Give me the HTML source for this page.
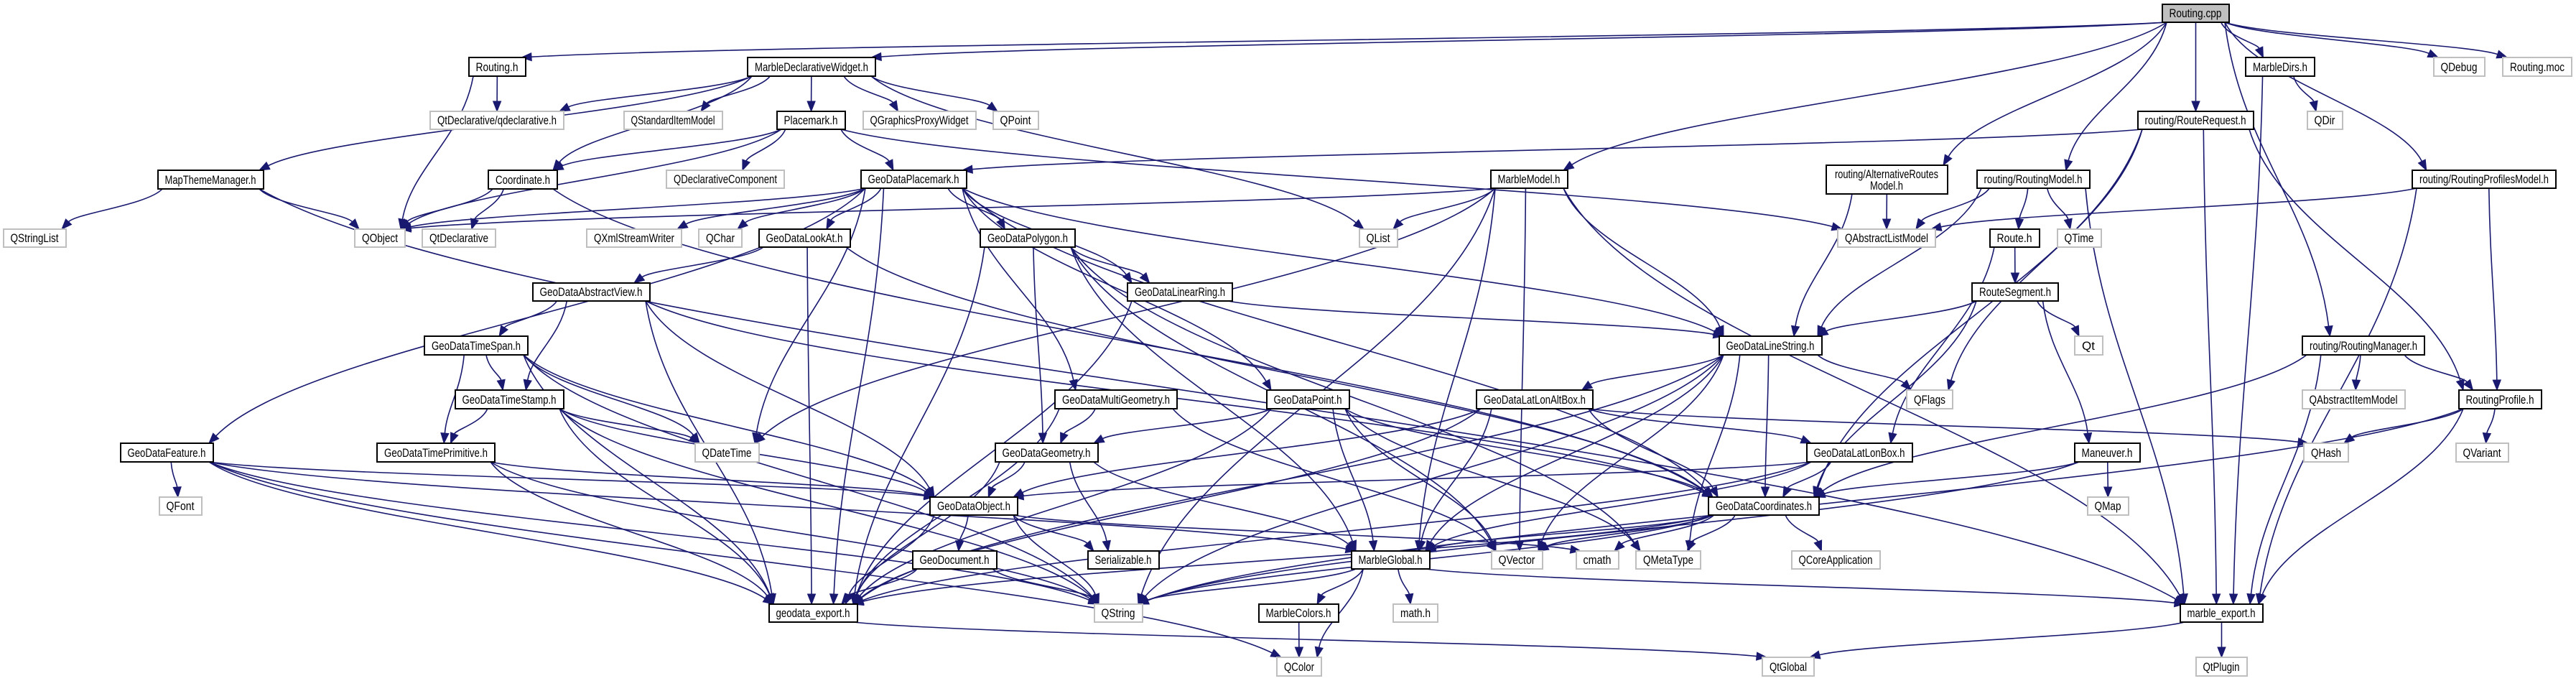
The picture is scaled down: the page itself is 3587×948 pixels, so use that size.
<!DOCTYPE html>
<html><head><meta charset="utf-8">
<style>
html,body{margin:0;padding:0;background:#fff;}
svg{display:block;}
text{font-family:"Liberation Sans",sans-serif;font-size:17px;fill:#000;}
rect.b{fill:#fff;stroke:#000;stroke-width:2;}
rect.g{fill:#fff;stroke:#bfbfbf;stroke-width:2;}
rect.r{fill:#bfbfbf;stroke:#000;stroke-width:2;}
</style></head><body>
<svg id="s" width="3587" height="948" viewBox="0 0 3587 948" xmlns="http://www.w3.org/2000/svg">
<g id="edges"></g>
<g id="nodes">
<rect id="RoutingCpp" class="r" x="3011" y="6" width="93" height="25"/><text x="3057" y="24" text-anchor="middle">Routing.cpp</text>
<rect id="RoutingH" class="b" x="653" y="80" width="79" height="26"/><text x="692" y="99" text-anchor="middle">Routing.h</text>
<rect id="MDW" class="b" x="1041" y="80" width="178" height="26"/><text x="1130" y="99" text-anchor="middle">MarbleDeclarativeWidget.h</text>
<rect id="MarbleDirs" class="b" x="3127" y="80" width="96" height="26"/><text x="3175" y="99" text-anchor="middle">MarbleDirs.h</text>
<rect id="QDebug" class="g" x="3389" y="80" width="71" height="26"/><text x="3424" y="99" text-anchor="middle">QDebug</text>
<rect id="RoutingMoc" class="g" x="3485" y="80" width="96" height="26"/><text x="3533" y="99" text-anchor="middle">Routing.moc</text>
<rect id="QDecl" class="g" x="599" y="155" width="186" height="25"/><text x="692" y="173" text-anchor="middle">QtDeclarative/qdeclarative.h</text>
<rect id="QSIM" class="g" x="869" y="155" width="137" height="25"/><text x="937" y="173" text-anchor="middle">QStandardItemModel</text>
<rect id="Placemark" class="b" x="1082" y="155" width="95" height="25"/><text x="1129" y="173" text-anchor="middle">Placemark.h</text>
<rect id="QGPW" class="g" x="1202" y="155" width="157" height="25"/><text x="1280" y="173" text-anchor="middle">QGraphicsProxyWidget</text>
<rect id="QPoint" class="g" x="1383" y="155" width="63" height="25"/><text x="1414" y="173" text-anchor="middle">QPoint</text>
<rect id="RouteRequest" class="b" x="2977" y="155" width="161" height="25"/><text x="3057" y="173" text-anchor="middle">routing/RouteRequest.h</text>
<rect id="QDir" class="g" x="3213" y="155" width="49" height="25"/><text x="3237" y="173" text-anchor="middle">QDir</text>
<rect id="MTM" class="b" x="220" y="237" width="147" height="26"/><text x="293" y="256" text-anchor="middle">MapThemeManager.h</text>
<rect id="Coordinate" class="b" x="680" y="237" width="96" height="26"/><text x="728" y="256" text-anchor="middle">Coordinate.h</text>
<rect id="QDC" class="g" x="928" y="237" width="164" height="25"/><text x="1010" y="255" text-anchor="middle">QDeclarativeComponent</text>
<rect id="GDPlacemark" class="b" x="1199" y="237" width="147" height="25"/><text x="1272" y="255" text-anchor="middle">GeoDataPlacemark.h</text>
<rect id="MarbleModel" class="b" x="2076" y="237" width="107" height="25"/><text x="2129" y="255" text-anchor="middle">MarbleModel.h</text>
<rect id="ARM" class="b" x="2543" y="230" width="169" height="40"/><text id="armA" x="2627" y="248" text-anchor="middle" textLength="144" lengthAdjust="spacingAndGlyphs">routing/AlternativeRoutes</text><text id="armB" x="2627" y="264" text-anchor="middle" textLength="46" lengthAdjust="spacingAndGlyphs">Model.h</text>
<rect id="RoutingModel" class="b" x="2753" y="237" width="157" height="25"/><text x="2831" y="255" text-anchor="middle">routing/RoutingModel.h</text>
<rect id="RPM" class="b" x="3359" y="237" width="200" height="25"/><text x="3459" y="255" text-anchor="middle">routing/RoutingProfilesModel.h</text>
<rect id="QStringList" class="g" x="5" y="319" width="87" height="25"/><text x="48" y="337" text-anchor="middle">QStringList</text>
<rect id="QObject" class="g" x="494" y="319" width="70" height="25"/><text x="529" y="337" text-anchor="middle">QObject</text>
<rect id="QtDeclarative" class="g" x="588" y="319" width="102" height="25"/><text x="639" y="337" text-anchor="middle">QtDeclarative</text>
<rect id="QXSW" class="g" x="817" y="319" width="132" height="25"/><text x="883" y="337" text-anchor="middle">QXmlStreamWriter</text>
<rect id="QChar" class="g" x="973" y="319" width="60" height="25"/><text x="1003" y="337" text-anchor="middle">QChar</text>
<rect id="LookAt" class="b" x="1057" y="319" width="127" height="25"/><text x="1120" y="337" text-anchor="middle">GeoDataLookAt.h</text>
<rect id="Polygon" class="b" x="1365" y="319" width="132" height="25"/><text x="1431" y="337" text-anchor="middle">GeoDataPolygon.h</text>
<rect id="QList" class="g" x="1893" y="319" width="53" height="25"/><text x="1919" y="337" text-anchor="middle">QList</text>
<rect id="QALM" class="g" x="2559" y="319" width="136" height="25"/><text x="2627" y="337" text-anchor="middle">QAbstractListModel</text>
<rect id="Route" class="b" x="2771" y="319" width="69" height="25"/><text x="2805" y="337" text-anchor="middle">Route.h</text>
<rect id="QTime" class="g" x="2865" y="319" width="61" height="25"/><text x="2895" y="337" text-anchor="middle">QTime</text>
<rect id="AbsView" class="b" x="742" y="394" width="163" height="25"/><text x="823" y="412" text-anchor="middle">GeoDataAbstractView.h</text>
<rect id="LinearRing" class="b" x="1570" y="394" width="146" height="25"/><text x="1643" y="412" text-anchor="middle">GeoDataLinearRing.h</text>
<rect id="RouteSegment" class="b" x="2746" y="394" width="120" height="25"/><text x="2806" y="412" text-anchor="middle">RouteSegment.h</text>
<rect id="TimeSpan" class="b" x="591" y="468" width="144" height="26"/><text x="663" y="487" text-anchor="middle">GeoDataTimeSpan.h</text>
<rect id="LineString" class="b" x="2394" y="468" width="143" height="26"/><text x="2465" y="487" text-anchor="middle">GeoDataLineString.h</text>
<rect id="Qt" class="g" x="2889" y="468" width="39" height="26"/><text x="2908" y="487" text-anchor="middle">Qt</text>
<rect id="RoutingManager" class="b" x="3206" y="468" width="170" height="26"/><text x="3291" y="487" text-anchor="middle">routing/RoutingManager.h</text>
<rect id="TimeStamp" class="b" x="634" y="543" width="151" height="26"/><text x="709" y="562" text-anchor="middle">GeoDataTimeStamp.h</text>
<rect id="MultiGeom" class="b" x="1469" y="543" width="170" height="26"/><text x="1554" y="562" text-anchor="middle">GeoDataMultiGeometry.h</text>
<rect id="Point" class="b" x="1764" y="543" width="115" height="26"/><text x="1821" y="562" text-anchor="middle">GeoDataPoint.h</text>
<rect id="LLAltBox" class="b" x="2056" y="543" width="162" height="26"/><text x="2137" y="562" text-anchor="middle">GeoDataLatLonAltBox.h</text>
<rect id="QFlags" class="g" x="2655" y="543" width="64" height="26"/><text x="2687" y="562" text-anchor="middle">QFlags</text>
<rect id="QAIM" class="g" x="3206" y="543" width="143" height="26"/><text x="3277" y="562" text-anchor="middle">QAbstractItemModel</text>
<rect id="RoutingProfile" class="b" x="3424" y="543" width="115" height="26"/><text x="3481" y="562" text-anchor="middle">RoutingProfile.h</text>
<rect id="Feature" class="b" x="168" y="617" width="129" height="26"/><text x="232" y="636" text-anchor="middle">GeoDataFeature.h</text>
<rect id="TimePrim" class="b" x="525" y="617" width="164" height="26"/><text x="607" y="636" text-anchor="middle">GeoDataTimePrimitive.h</text>
<rect id="QDateTime" class="g" x="968" y="617" width="89" height="26"/><text x="1012" y="636" text-anchor="middle">QDateTime</text>
<rect id="Geometry" class="b" x="1386" y="617" width="143" height="26"/><text x="1457" y="636" text-anchor="middle">GeoDataGeometry.h</text>
<rect id="LLBox" class="b" x="2516" y="617" width="147" height="26"/><text x="2589" y="636" text-anchor="middle">GeoDataLatLonBox.h</text>
<rect id="Maneuver" class="b" x="2889" y="617" width="91" height="26"/><text x="2934" y="636" text-anchor="middle">Maneuver.h</text>
<rect id="QHash" class="g" x="3208" y="617" width="62" height="26"/><text x="3239" y="636" text-anchor="middle">QHash</text>
<rect id="QVariant" class="g" x="3420" y="617" width="73" height="26"/><text x="3456" y="636" text-anchor="middle">QVariant</text>
<rect id="QFont" class="g" x="222" y="692" width="59" height="25"/><text x="251" y="710" text-anchor="middle">QFont</text>
<rect id="Object" class="b" x="1295" y="692" width="122" height="25"/><text x="1356" y="710" text-anchor="middle">GeoDataObject.h</text>
<rect id="Coords" class="b" x="2379" y="692" width="154" height="25"/><text x="2456" y="710" text-anchor="middle">GeoDataCoordinates.h</text>
<rect id="QMap" class="g" x="2907" y="692" width="57" height="25"/><text x="2935" y="710" text-anchor="middle">QMap</text>
<rect id="GeoDocument" class="b" x="1271" y="767" width="117" height="25"/><text x="1329" y="785" text-anchor="middle">GeoDocument.h</text>
<rect id="Serializable" class="b" x="1515" y="767" width="99" height="25"/><text x="1564" y="785" text-anchor="middle">Serializable.h</text>
<rect id="MarbleGlobal" class="b" x="1882" y="767" width="109" height="25"/><text x="1936" y="785" text-anchor="middle">MarbleGlobal.h</text>
<rect id="QVector" class="g" x="2077" y="767" width="71" height="25"/><text x="2112" y="785" text-anchor="middle">QVector</text>
<rect id="cmath" class="g" x="2195" y="767" width="59" height="25"/><text x="2224" y="785" text-anchor="middle">cmath</text>
<rect id="QMetaType" class="g" x="2278" y="767" width="90" height="25"/><text x="2323" y="785" text-anchor="middle">QMetaType</text>
<rect id="QCoreApp" class="g" x="2495" y="767" width="123" height="25"/><text x="2556" y="785" text-anchor="middle">QCoreApplication</text>
<rect id="geodataExport" class="b" x="1071" y="841" width="123" height="25"/><text x="1132" y="859" text-anchor="middle">geodata_export.h</text>
<rect id="QString" class="g" x="1524" y="841" width="67" height="25"/><text x="1557" y="859" text-anchor="middle">QString</text>
<rect id="MarbleColors" class="b" x="1753" y="841" width="111" height="25"/><text x="1808" y="859" text-anchor="middle">MarbleColors.h</text>
<rect id="mathH" class="g" x="1940" y="841" width="62" height="25"/><text x="1971" y="859" text-anchor="middle">math.h</text>
<rect id="marbleExport" class="b" x="3036" y="841" width="115" height="25"/><text x="3093" y="859" text-anchor="middle">marble_export.h</text>
<rect id="QColor" class="g" x="1778" y="915" width="62" height="26"/><text x="1809" y="934" text-anchor="middle">QColor</text>
<rect id="QtGlobal" class="g" x="2454" y="915" width="72" height="26"/><text x="2490" y="934" text-anchor="middle">QtGlobal</text>
<rect id="QtPlugin" class="g" x="3058" y="915" width="71" height="26"/><text x="3093" y="934" text-anchor="middle">QtPlugin</text>
</g>
</svg>
<script>
(function(){
// fit labels into boxes
var rs=document.querySelectorAll("#nodes rect");
for(var i=0;i<rs.length;i++){var r=rs[i];if(r.id==="ARM")continue;var t=r.nextElementSibling;if(!t||t.tagName!=="text")continue;
 var w=+r.getAttribute("width");var target=w-20;
 try{var L=t.getComputedTextLength();if(L>target){t.setAttribute("textLength",target);t.setAttribute("lengthAdjust","spacingAndGlyphs");}}catch(e){}
}
var E={
RoutingCpp:["RoutingH","MDW","MarbleModel","ARM","RoutingModel","RouteRequest","MarbleDirs","QDebug","RoutingMoc","RoutingManager","RPM"],
RoutingH:["QDecl","QObject"],
MDW:["QDecl","QSIM","Placemark","QGPW","QPoint","QList","MTM","Coordinate"],
MTM:["QStringList","QObject","marbleExport"],
Coordinate:["QObject","QtDeclarative","Coords"],
Placemark:["QObject","QDC","GDPlacemark","Coordinate","QALM"],
GDPlacemark:["QObject","QXSW","QChar","LookAt","Polygon","LinearRing","Feature","QDateTime","geodataExport","MultiGeom","Point","LineString","Coords"],
MarbleModel:["QObject","QList","QString","MarbleGlobal","QVector","LineString","marbleExport","QDateTime"],
LookAt:["AbsView","geodataExport","Coords"],
AbsView:["TimeSpan","TimeStamp","Object","geodataExport","Coords"],
TimeSpan:["TimeStamp","TimePrim","QDateTime","Object","geodataExport","QString"],
TimeStamp:["TimePrim","QDateTime","Object","geodataExport","QString"],
TimePrim:["Object","geodataExport","QString"],
Feature:["QFont","Object","geodataExport","QString","QColor","MarbleGlobal"],
Polygon:["LinearRing","Geometry","geodataExport","QVector","MarbleGlobal","QMetaType"],
LinearRing:["LineString","geodataExport"],
MultiGeom:["Geometry","geodataExport","QVector"],
Point:["Geometry","Coords","geodataExport","QMetaType","QVector","MarbleGlobal"],
Geometry:["Object","Serializable","geodataExport","MarbleGlobal"],
Object:["GeoDocument","Serializable","geodataExport","QString","cmath"],
GeoDocument:["geodataExport","QString"],
geodataExport:["QtGlobal"],
LineString:["LLAltBox","Coords","QFlags","QVector","MarbleGlobal","QMetaType","geodataExport","QString"],
LLAltBox:["LLBox","Coords","Object","MarbleGlobal","geodataExport","QHash"],
LLBox:["Coords","Object","MarbleGlobal","geodataExport"],
Coords:["QCoreApp","QMetaType","QVector","cmath","MarbleGlobal","geodataExport","QString"],
MarbleGlobal:["MarbleColors","mathH","QColor","QString","marbleExport"],
MarbleColors:["QColor"],
marbleExport:["QtPlugin","QtGlobal"],
MarbleDirs:["QDir","marbleExport"],
RouteRequest:["GDPlacemark","Coords","marbleExport","RoutingProfile","QFlags"],
ARM:["QALM","LineString"],
RoutingModel:["QALM","Route","QTime","LineString","marbleExport"],
Route:["RouteSegment","LLBox"],
RouteSegment:["Qt","LineString","Maneuver","Coords"],
Maneuver:["QMap","Coords","QString"],
RPM:["QALM","RoutingProfile","marbleExport"],
RoutingManager:["QAIM","RoutingProfile","marbleExport","Coords"],
RoutingProfile:["QHash","QVariant","marbleExport","QString"]
};
var NS="http://www.w3.org/2000/svg";
var g=document.getElementById("edges");
function box(id){var r=document.getElementById(id);var x=+r.getAttribute("x"),y=+r.getAttribute("y"),w=+r.getAttribute("width"),h=+r.getAttribute("height");return {x:x,y:y,w:w,h:h,cx:x+w/2,cy:y+h/2};}
function cl(v,m){return Math.max(-m,Math.min(m,v));}
var col="#191970";
for(var s in E){var a=box(s);E[s].forEach(function(t){
 var b=box(t),sx,sy,ex,ey,c1x,c1y,c2x,c2y;
 var dy=b.cy-a.cy;
 if(Math.abs(dy)<20){
  if(b.cx>a.cx){sx=a.x+a.w;ex=b.x;}else{sx=a.x;ex=b.x+b.w;}
  sy=a.cy;ey=b.cy;c1x=sx+(ex-sx)*0.4;c1y=sy;c2x=ex-(ex-sx)*0.4;c2y=ey;
 }else if(dy>0){
  sx=a.cx+cl((b.cx-a.cx)*0.3,a.w/2-6);sy=a.y+a.h;
  ex=b.cx+cl((a.cx-b.cx)*0.2,b.w/2-6);ey=b.y;
  var d=ey-sy;c1x=sx+(ex-sx)*0.15;c1y=sy+d*0.4;c2x=ex-(ex-sx)*0.15;c2y=ey-d*0.4;
 }else{
  sx=a.cx+cl((b.cx-a.cx)*0.3,a.w/2-6);sy=a.y;
  ex=b.cx;ey=b.y+b.h;var d2=sy-ey;c1x=sx;c1y=sy-d2*0.4;c2x=ex;c2y=ey+d2*0.4;
 }
 var dx=ex-c2x,dyy=ey-c2y,L=Math.sqrt(dx*dx+dyy*dyy)||1;dx/=L;dyy/=L;
 var al=14,aw=5.5;var bx=ex-dx*al,by=ey-dyy*al;
 var p=document.createElementNS(NS,"path");
 p.setAttribute("d","M"+sx+","+sy+" C"+c1x+","+c1y+" "+c2x+","+c2y+" "+bx+","+by);
 p.setAttribute("fill","none");p.setAttribute("stroke",col);p.setAttribute("stroke-width","1.6");
 g.appendChild(p);
 var q=document.createElementNS(NS,"polygon");
 q.setAttribute("points",ex+","+ey+" "+(bx-dyy*aw)+","+(by+dx*aw)+" "+(bx+dyy*aw)+","+(by-dx*aw));
 q.setAttribute("fill",col);q.setAttribute("stroke",col);
 g.appendChild(q);
});}
})();
</script>
</body></html>
